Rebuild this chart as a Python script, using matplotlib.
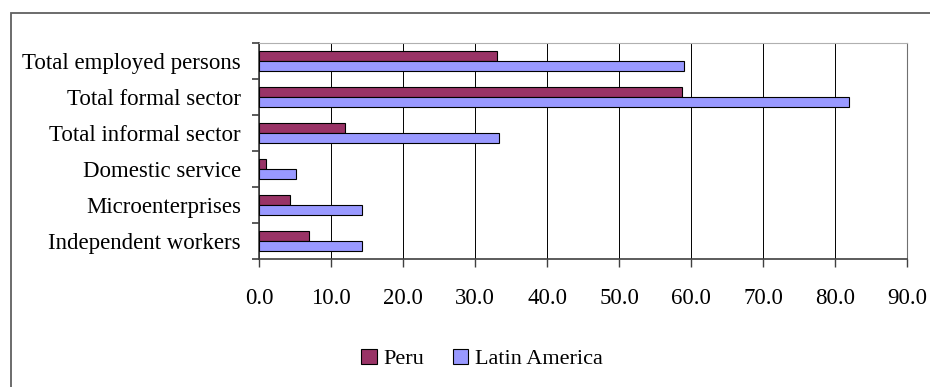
import matplotlib.pyplot as plt
from matplotlib.patches import Rectangle
from matplotlib.ticker import FormatStrFormatter
import numpy as np

# Employment shares by sector, Peru vs Latin America
categories = ["Total employed persons", "Total formal sector", "Total informal sector",
              "Domestic service", "Microenterprises", "Independent workers"]
peru = [33.1, 58.8, 12.0, 1.0, 4.3, 6.9]
latin_america = [59.0, 82.0, 33.4, 5.1, 14.3, 14.3]
x_ticks = [0, 10, 20, 30, 40, 50, 60, 70, 80, 90]

plt.rcParams['font.family'] = ['Liberation Serif', 'DejaVu Serif']

fig = plt.figure(figsize=(9.3, 3.87), dpi=100)
ax = fig.add_axes([259 / 930, 1 - 259 / 387, 648 / 930, 216 / 387])

# outer frame around the chart
fig.patches.append(Rectangle((10.5 / 930, -0.05), 1.0, 1.05 - 13 / 387,
                             transform=fig.transFigure, fill=False,
                             edgecolor='#606060', linewidth=1.3))

n = len(categories)
y = np.arange(n)[::-1]
h = 0.29
ax.barh(y + h / 2, peru, height=h, color='#993366', edgecolor='black',
        linewidth=0.8, label='Peru', zorder=3)
ax.barh(y - h / 2, latin_america, height=h, color='#9999FF', edgecolor='black',
        linewidth=0.8, label='Latin America', zorder=3)

ax.set_xlim(0, 90)
ax.set_ylim(-0.5, n - 0.5)
ax.set_xticks(x_ticks)
ax.xaxis.set_major_formatter(FormatStrFormatter('%.1f'))
ax.xaxis.grid(True, color='black', linewidth=0.7, zorder=0)

ax.set_yticks(y)
ax.set_yticklabels(categories)
ax.set_yticks(np.arange(n + 1) - 0.5, minor=True)
ax.tick_params(axis='y', which='major', length=0, pad=13, labelsize=16.5)
ax.tick_params(axis='y', which='minor', length=5, width=1.2, color='#404040')
ax.tick_params(axis='x', length=6, width=1, color='#404040', pad=15, labelsize=16.5)

ax.spines['left'].set_color('#404040')
ax.spines['bottom'].set_color('#404040')
ax.spines['left'].set_linewidth(1.2)
ax.spines['bottom'].set_linewidth(1.2)
ax.spines['top'].set_color('#b0b0b0')
ax.spines['right'].set_color('#707070')

fig.legend(loc='center', bbox_to_anchor=(482 / 930, 1 - 359 / 387), ncol=2,
           frameon=False, fontsize=16, handlelength=0.7, handleheight=0.7,
           handletextpad=0.3, columnspacing=1.3)

fig.savefig('out.png', dpi=100)
